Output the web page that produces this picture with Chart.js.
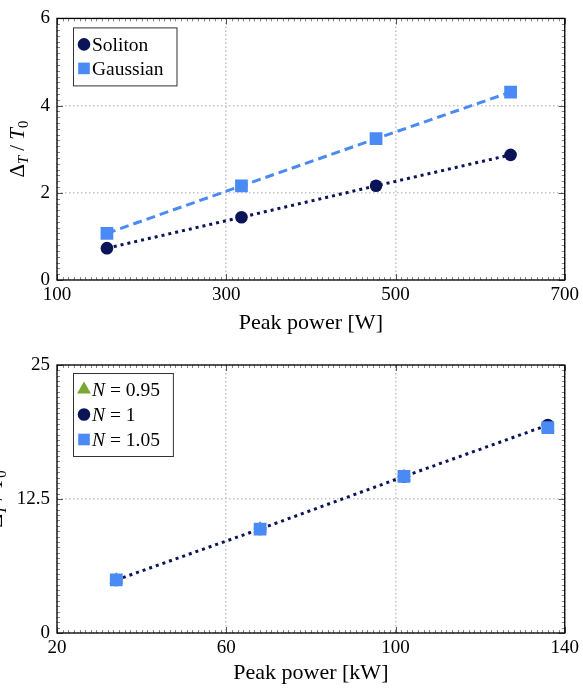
<!DOCTYPE html>
<html>
<head>
<meta charset="utf-8">
<script src="https://cdn.jsdelivr.net/npm/chart.js@4.4.1/dist/chart.umd.min.js"></script>
<style>
  html, body { margin: 0; padding: 0; background: #fff; }
  .panel { position: absolute; left: 0; width: 583px; height: 345px; }
  #top { top: 0; }
  #bottom { top: 345px; }
</style>
</head>
<body>
<div class="panel" id="top"><canvas id="widthChart"></canvas></div>
<div class="panel" id="bottom"><canvas id="powerChart"></canvas></div>
<script>
// top panel: broadening ratio vs peak power in W
const powerW = [159, 318, 477, 636];
const solitonRatio = [0.73, 1.44, 2.16, 2.87];
const gaussianRatio = [1.07, 2.16, 3.24, 4.31];

// bottom panel: broadening ratio vs peak power in kW, for three soliton orders
const powerKW = [34, 68, 102, 136];
const ratioN095 = [4.95, 9.7, 14.6, 19.2];
const ratioN1 = [4.95, 9.7, 14.6, 19.4];
const ratioN105 = [4.95, 9.7, 14.6, 19.15];

const NAVY = "#0b1457";
const BLUE = "#4a8af4";
const GREEN = "#78a832";
const SERIF = "'Liberation Serif', 'DejaVu Serif', serif";

const pts = (xs, ys) => xs.map((x, i) => ({ x, y: ys[i] }));

// box round the plot area with small inward ticks on all four sides
const framePlugin = {
    id: "frame",
    afterDraw(chart, args, opts) {
        const { ctx, chartArea: a } = chart;
        const { x, y } = chart.scales;
        ctx.save();
        ctx.lineWidth = 0.9;
        ctx.strokeStyle = "#777";
        ctx.beginPath();
        for (let v = x.min; v <= x.max + 1e-9; v += opts.xMinor) {
            const px = Math.round(x.getPixelForValue(v)) + 0.5;
            ctx.moveTo(px, a.bottom);
            ctx.lineTo(px, a.bottom - 3);
            ctx.moveTo(px, a.top);
            ctx.lineTo(px, a.top + 3);
        }
        for (let v = y.min; v <= y.max + 1e-9; v += opts.yMinor) {
            const py = Math.round(y.getPixelForValue(v)) + 0.5;
            ctx.moveTo(a.left, py);
            ctx.lineTo(a.left + 3, py);
            ctx.moveTo(a.right, py);
            ctx.lineTo(a.right - 3, py);
        }
        ctx.stroke();

        ctx.strokeStyle = "#555";
        ctx.lineWidth = 1;
        ctx.beginPath();
        x.ticks.forEach((t) => {
            const px = Math.round(x.getPixelForValue(t.value)) + 0.5;
            ctx.moveTo(px, a.bottom);
            ctx.lineTo(px, a.bottom - 6);
            ctx.moveTo(px, a.top);
            ctx.lineTo(px, a.top + 6);
        });
        y.ticks.forEach((t) => {
            const py = Math.round(y.getPixelForValue(t.value)) + 0.5;
            ctx.moveTo(a.left, py);
            ctx.lineTo(a.left + 6, py);
            ctx.moveTo(a.right, py);
            ctx.lineTo(a.right - 6, py);
        });
        ctx.stroke();

        ctx.strokeStyle = "#000";
        ctx.lineWidth = 1.3;
        ctx.strokeRect(a.left, a.top, a.right - a.left, a.bottom - a.top);
        ctx.restore();
    },
};

// rotated y title  Δ_T / T_0  with italic T and subscripts
const yTitlePlugin = {
    id: "yTitle",
    afterDraw(chart, args, opts) {
        const { ctx, chartArea: a } = chart;
        const parts = [
            { t: "\u0394", size: 21, italic: false, dy: 0 },
            { t: "T", size: 14.5, italic: true, dy: 4 },
            { t: " / ", size: 21, italic: false, dy: 0 },
            { t: "T", size: 21, italic: true, dy: 0 },
            { t: "0", size: 14.5, italic: false, dy: 4 },
        ];
        const fontOf = (p) => `${p.italic ? "italic " : ""}${p.size}px ${SERIF}`;
        ctx.save();
        let total = 0;
        parts.forEach((p) => {
            ctx.font = fontOf(p);
            p.w = ctx.measureText(p.t).width;
            total += p.w;
        });
        ctx.translate(opts.x, (a.top + a.bottom) / 2);
        ctx.rotate(-Math.PI / 2);
        ctx.fillStyle = "#000";
        ctx.textBaseline = "alphabetic";
        let cx = -total / 2;
        parts.forEach((p) => {
            ctx.font = fontOf(p);
            ctx.fillText(p.t, cx, p.dy);
            cx += p.w;
        });
        ctx.restore();
    },
};

// boxed legend inside the upper-left corner of the plot area
const legendBoxPlugin = {
    id: "legendBox",
    afterDraw(chart, args, opts) {
        const { ctx, chartArea: a } = chart;
        const sets = chart.data.datasets;
        const size = 19.5;
        const upright = `${size}px ${SERIF}`;
        const italic = `italic ${size}px ${SERIF}`;
        ctx.save();
        const pieces = sets.map((ds) => {
            const m = ds.label.match(/^(N)( = .*)$/);
            return m ? [{ t: m[1], f: italic }, { t: m[2], f: upright }] : [{ t: ds.label, f: upright }];
        });
        let maxW = 0;
        pieces.forEach((row) => {
            let w = 0;
            row.forEach((p) => {
                ctx.font = p.f;
                p.w = ctx.measureText(p.t).width;
                w += p.w;
            });
            maxW = Math.max(maxW, w);
        });
        const x0 = a.left + 16;
        const y0 = a.top + opts.top;
        const boxW = 19 + maxW + 13;
        const boxH = opts.pad * 2 + opts.gap * (sets.length - 1);
        ctx.fillStyle = "#fff";
        ctx.fillRect(x0, y0, boxW, boxH);
        ctx.strokeStyle = "#333";
        ctx.lineWidth = 1;
        ctx.strokeRect(x0 + 0.5, y0 + 0.5, boxW, boxH);

        sets.forEach((ds, i) => {
            const cy = y0 + opts.pad + i * opts.gap;
            ctx.fillStyle = ds.backgroundColor;
            Chart.helpers.drawPoint(ctx, {
                pointStyle: ds.pointStyle,
                radius: ds.legendRadius,
                rotation: 0,
                borderWidth: 0,
            }, x0 + 11, cy);
            let tx = x0 + 19;
            ctx.fillStyle = "#000";
            ctx.textBaseline = "middle";
            pieces[i].forEach((p) => {
                ctx.font = p.f;
                ctx.fillText(p.t, tx, cy + 1);
                tx += p.w;
            });
        });
        ctx.restore();
    },
};

const gridOpts = { color: "#c4c4c4", lineWidth: 1.6, drawTicks: false };
const borderOpts = { display: false, dash: [1.5, 2.5] };
const tickFont = { family: SERIF, size: 19 };

function makeOptions(cfg) {
    return {
        responsive: true,
        maintainAspectRatio: false,
        animation: false,
        events: [],
        layout: { padding: { top: cfg.top, right: 17, left: 0, bottom: 0 } },
        scales: {
            x: {
                type: "linear",
                min: cfg.xMin,
                max: cfg.xMax,
                grid: gridOpts,
                border: borderOpts,
                ticks: { stepSize: cfg.xStep, color: "#000", font: tickFont, padding: 4, maxRotation: 0 },
                title: {
                    display: true,
                    text: cfg.xTitle,
                    color: "#000",
                    font: { family: SERIF, size: 22 },
                    padding: { top: 0, bottom: cfg.titlePad },
                },
                afterFit: (s) => { s.height = cfg.xHeight; },
            },
            y: {
                min: cfg.yMin,
                max: cfg.yMax,
                grid: gridOpts,
                border: borderOpts,
                ticks: { stepSize: cfg.yStep, color: "#000", font: tickFont, padding: 7 },
                afterFit: (s) => { s.width = 57; },
            },
        },
        plugins: {
            legend: { display: false },
            tooltip: { enabled: false },
            frame: { xMinor: cfg.xMinor, yMinor: cfg.yMinor },
            yTitle: { x: cfg.titleX },
            legendBox: { top: cfg.legendTop, pad: cfg.legendPad, gap: cfg.legendGap },
        },
    };
}

new Chart(document.getElementById("widthChart"), {
    type: "line",
    data: {
        datasets: [
            {
                label: "Soliton",
                data: pts(powerW, solitonRatio),
                borderColor: NAVY,
                backgroundColor: NAVY,
                borderWidth: 3,
                borderDash: [3, 4],
                pointStyle: "circle",
                pointRadius: 6.3,
                pointBorderWidth: 0,
                legendRadius: 6.3,
            },
            {
                label: "Gaussian",
                data: pts(powerW, gaussianRatio),
                borderColor: BLUE,
                backgroundColor: BLUE,
                borderWidth: 3,
                borderDash: [9, 5],
                pointStyle: "rect",
                pointRadius: 9,
                pointBorderWidth: 0,
                legendRadius: 8.2,
            },
        ],
    },
    options: makeOptions({
        top: 13, xMin: 100, xMax: 700, xStep: 200, xMinor: 200 / 30,
        yMin: 0, yMax: 6, yStep: 2, yMinor: 2 / 15,
        xTitle: "Peak power [W]", xHeight: 65, titlePad: 9,
        titleX: 24, legendTop: 9, legendPad: 17, legendGap: 24,
    }),
    plugins: [framePlugin, yTitlePlugin, legendBoxPlugin],
});

new Chart(document.getElementById("powerChart"), {
    type: "line",
    data: {
        datasets: [
            {
                label: "N = 0.95",
                data: pts(powerKW, ratioN095),
                backgroundColor: GREEN,
                borderColor: GREEN,
                showLine: false,
                pointStyle: "triangle",
                pointRadius: 8,
                pointBorderWidth: 0,
                legendRadius: 8,
                order: 3,
            },
            {
                label: "N = 1",
                data: pts(powerKW, ratioN1),
                borderColor: NAVY,
                backgroundColor: NAVY,
                borderWidth: 3,
                borderDash: [3, 4],
                pointStyle: "circle",
                pointRadius: 6.3,
                pointBorderWidth: 0,
                legendRadius: 6.3,
                order: 2,
            },
            {
                label: "N = 1.05",
                data: pts(powerKW, ratioN105),
                backgroundColor: BLUE,
                borderColor: BLUE,
                showLine: false,
                pointStyle: "rect",
                pointRadius: 9,
                pointBorderWidth: 0,
                legendRadius: 8.2,
                order: 1,
            },
        ],
    },
    options: makeOptions({
        top: 20, xMin: 20, xMax: 140, xStep: 40, xMinor: 40 / 30,
        yMin: 0, yMax: 25, yStep: 12.5, yMinor: 12.5 / 25,
        xTitle: "Peak power [kW]", xHeight: 57, titlePad: 4,
        titleX: 2, legendTop: 8, legendPad: 16.5, legendGap: 25,
    }),
    plugins: [framePlugin, yTitlePlugin, legendBoxPlugin],
});
</script>
</body>
</html>
